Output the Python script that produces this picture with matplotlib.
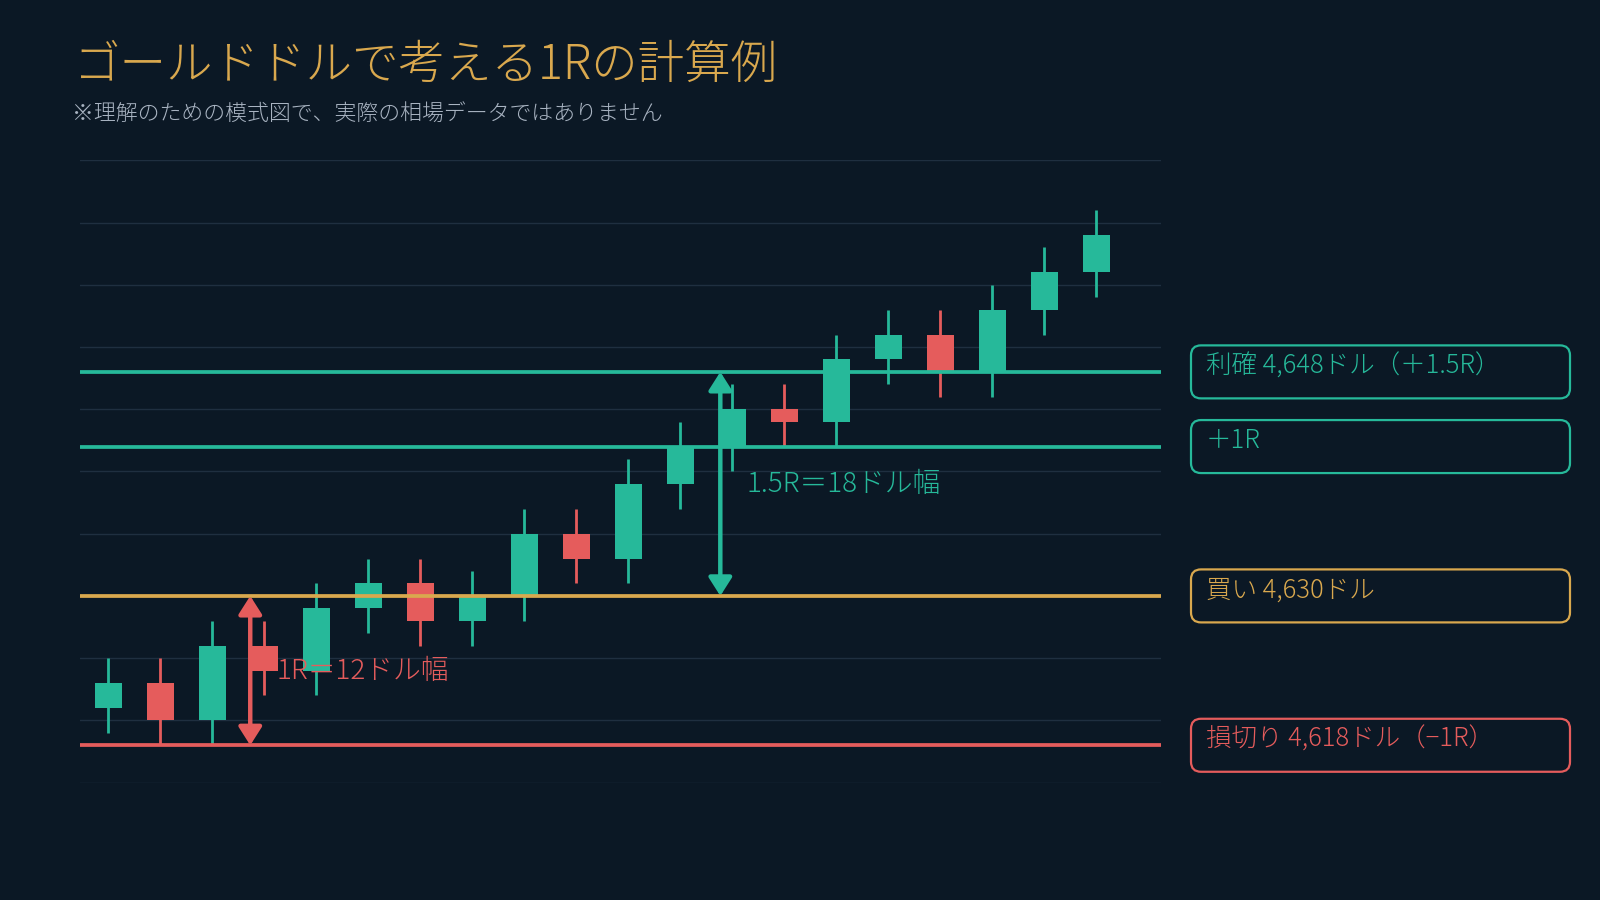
import matplotlib
matplotlib.use("Agg")
import matplotlib.pyplot as plt
import matplotlib.transforms as mtransforms
from matplotlib.patches import FancyBboxPatch, FancyArrowPatch

plt.rcParams['font.family'] = ['Noto Sans CJK JP', 'DejaVu Sans']
plt.rcParams['font.weight'] = 'light'

# ---- data ----
opens  = [4621, 4623, 4620, 4626, 4624, 4629, 4631, 4628, 4630, 4635,
          4633, 4639, 4642, 4645, 4644, 4649, 4651, 4648, 4653, 4656]
closes = [4623, 4620, 4626, 4624, 4629, 4631, 4628, 4630, 4635, 4633,
          4639, 4642, 4645, 4644, 4649, 4651, 4648, 4653, 4656, 4659]
highs  = [4625, 4625, 4628, 4628, 4631, 4633, 4633, 4632, 4637, 4637,
          4641, 4644, 4647, 4647, 4651, 4653, 4653, 4655, 4658, 4661]
lows   = [4619, 4618, 4618, 4622, 4622, 4627, 4626, 4626, 4628, 4631,
          4631, 4637, 4640, 4642, 4642, 4647, 4646, 4646, 4651, 4654]

entry = 4630
stop = 4618
plus1r = 4642
target = 4648

level_values = [target, plus1r, entry, stop]
level_labels = ["利確 4,648ドル（＋1.5R）", "＋1R", "買い 4,630ドル", "損切り 4,618ドル（−1R）"]

title = "ゴールドドルで考える1Rの計算例"
subtitle = "※理解のための模式図で、実際の相場データではありません"
risk_label = "1R＝12ドル幅"
reward_label = "1.5R＝18ドル幅"
risk_arrow_x = 2.73
reward_arrow_x = 11.77

# ---- style ----
BG = '#0b1825'
GREEN = '#26b99a'
RED = '#e55c5c'
GOLD = '#d9a84e'
SUB = '#a9b4c2'
GRID = '#1f2f40'
level_colors = [GREEN, GREEN, GOLD, RED]

fig = plt.figure(figsize=(16, 9), dpi=100, facecolor=BG)
ax = fig.add_axes([80/1600, 1-782.6/900, (1161-80)/1600, (782.6-160.3)/900])
ax.set_facecolor(BG)
ax.set_xlim(-0.544, 20.245)
ax.set_ylim(4615, 4665)
ax.set_yticks(range(4615, 4666, 5))
ax.set_xticks([])
ax.tick_params(left=False, labelleft=False)
for s in ax.spines.values():
    s.set_visible(False)
ax.grid(axis='y', color=GRID, lw=1.0)
ax.set_axisbelow(True)

xs = list(range(len(opens)))
cols = [GREEN if c >= o else RED for o, c in zip(opens, closes)]
ax.vlines(xs, lows, highs, colors=cols, lw=2.0, zorder=2)
bottoms = [min(o, c) for o, c in zip(opens, closes)]
heights = [abs(c - o) for o, c in zip(opens, closes)]
ax.bar(xs, heights, bottom=bottoms, width=0.51, color=cols, zorder=3, linewidth=0)

for v, c in zip(level_values, level_colors):
    ax.axhline(v, color=c, lw=2.7, zorder=4)

# arrows
for x, y0, y1, c in [(risk_arrow_x, entry, stop, RED), (reward_arrow_x, entry, target, GREEN)]:
    arr = FancyArrowPatch((x, y0), (x, y1), arrowstyle='<|-|>,head_length=11,head_width=7',
                          mutation_scale=1, color=c, lw=3.2, shrinkA=0, shrinkB=0, zorder=5)
    ax.add_patch(arr)

ax.text(risk_arrow_x + 0.5, (entry + stop) / 2, risk_label, color=RED, fontsize=20,
        ha='left', va='center', zorder=6)
ax.text(reward_arrow_x + 0.5, (entry + target) / 2, reward_label, color=GREEN, fontsize=20,
        ha='left', va='center', zorder=6)

# title
fig.text(74/1600, 1-65/900, title, color=GOLD, fontsize=33.5, ha='left', va='center')
fig.text(72/1600, 1-114/900, subtitle, color=SUB, fontsize=15.75, ha='left', va='center')

# right-hand label boxes (pixel coordinates derived from data levels)
fig.canvas.draw()
ident = mtransforms.IdentityTransform()
bx0, bx1, bh = 1191, 1570, 53
for v, lab, c in zip(level_values, level_labels, level_colors):
    ypix = ax.transData.transform((0, v))[1]
    box = FancyBboxPatch((bx0, ypix - bh/2), bx1 - bx0, bh,
                         boxstyle="round,pad=0,rounding_size=10",
                         transform=ident, facecolor='none', edgecolor=c, lw=1.6)
    fig.add_artist(box)
    fig.text(bx0 + 15, ypix + 5.5, lab, color=c, fontsize=18.4, ha='left', va='center',
             transform=ident)

fig.savefig('out.png', dpi=100, facecolor=BG)
